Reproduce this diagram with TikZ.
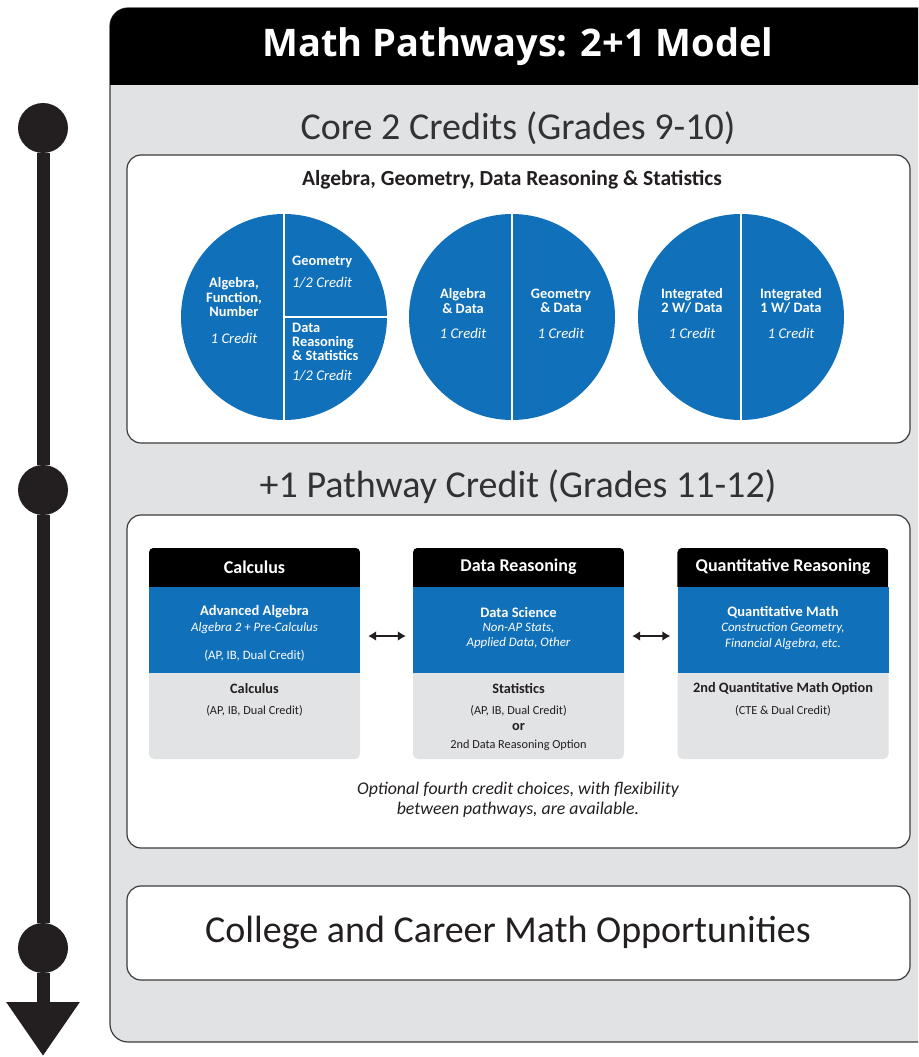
\documentclass[tikz,border=0pt]{standalone}
\usepackage{fontspec}
\setmainfont{Carlito}
\newfontfamily\titlefont{Open Sans}
\usetikzlibrary{arrows.meta}
\definecolor{mblue}{RGB}{17,112,186}
\definecolor{panelgrey}{RGB}{225,226,228}
\definecolor{cardgrey}{RGB}{226,227,229}
\definecolor{edge}{RGB}{60,60,60}
\definecolor{txt}{RGB}{35,31,32}
\definecolor{headgrey}{RGB}{50,50,52}
\begin{document}
\begin{tikzpicture}[x=1pt,y=-1pt,
  dot/.style={circle,fill=txt,minimum size=50pt,inner sep=0pt},
  tl/.style={line width=13pt,draw=txt},
  wbox/.style={draw=edge,line width=1.2pt,fill=white,rounded corners=14pt,inner sep=0pt},
  head/.style={text=headgrey,font=\fontsize{38}{40}\selectfont,inner sep=0pt},
  titletext/.style={text=white,font=\titlefont\bfseries\fontsize{38}{40}\selectfont,inner sep=0pt},
  subhead/.style={text=txt,font=\bfseries\fontsize{21.5}{24}\selectfont,inner sep=0pt},
  pie/.style={circle,fill=mblue,minimum size=206pt,inner sep=0pt},
  div/.style={draw=white,line width=1.8pt},
  ptxt/.style={text=white,font=\bfseries\fontsize{14.4}{14.2}\selectfont,inner sep=0pt,align=center},
  pit/.style={text=white,font=\itshape\fontsize{14.8}{16}\selectfont,inner sep=0pt},
  card/.style={fill=cardgrey,rounded corners=5pt,minimum width=211pt,minimum height=211pt,inner sep=0pt},
  bluebox/.style={fill=mblue,minimum width=211pt,minimum height=86pt,inner sep=0pt},
  hdr/.style={text=white,font=\bfseries\fontsize{18}{20}\selectfont,inner sep=0pt},
  btitle/.style={text=white,font=\bfseries\fontsize{14.5}{16}\selectfont,inner sep=0pt},
  bit/.style={text=white,font=\itshape\fontsize{12.9}{15.5}\selectfont,inner sep=0pt,align=center},
  bsm/.style={text=white,font=\fontsize{12.8}{14}\selectfont,inner sep=0pt},
  gtitle/.style={text=txt,font=\bfseries\fontsize{14.3}{15}\selectfont,inner sep=0pt},
  gsm/.style={text=txt,font=\fontsize{12.3}{14}\selectfont,inner sep=0pt},
  dbl/.style={draw=txt,line width=2.6pt,{Latex[length=8pt,width=10pt]}-{Latex[length=8pt,width=10pt]}},
  note/.style={text=txt,font=\itshape\fontsize{17.8}{20}\selectfont,inner sep=0pt,align=center},
  big/.style={text=txt,font=\fontsize{38}{40}\selectfont,inner sep=0pt}
]
\useasboundingbox (0,0) rectangle (918,1057);

% outer panel
\begin{scope}
\clip (0,0) rectangle (918,1057);
\path[fill=panelgrey,draw=edge,line width=1.2pt,rounded corners=18pt] (110,8) rectangle (960,1042);
\begin{scope}
\clip[rounded corners=18pt] (110,8) rectangle (960,1042);
\fill[black] (110,8) rectangle (960,85);
\end{scope}
\end{scope}
\node[titletext] (title) at (518,47) {Math Pathways: 2+1 Model};

% timeline
\node[dot] (d1) at (43,128) {};
\node[dot] (d2) at (43,490) {};
\node[dot] (d3) at (43,948) {};
\coordinate (tip) at (43,1056);
\draw[tl] (d1) -- (d2);
\draw[tl] (d2) -- (d3);
\draw[tl,-{Triangle[width=70pt,length=54pt]}] (d3) -- (tip);

% headings and boxes
\node[head] (core) at (518,128) {Core 2 Credits (Grades 9-10)};
\node[wbox,minimum width=783pt,minimum height=288pt] (w1) at (518.5,299) {};
\node[subhead] (sub) at (512,180) {Algebra, Geometry, Data Reasoning \& Statistics};

\node[head] (plus) at (518,487) {+1 Pathway Credit (Grades 11-12)};
\node[wbox,minimum width=783pt,minimum height=333pt] (w2) at (518.5,681.5) {};

\node[wbox,minimum width=783pt,minimum height=94pt] (w3) at (518.5,933) {};
\node[big] (career) at (508,933) {College and Career Math Opportunities};

% pies
\node[pie] (p1) at (284,317) {};
\draw[div] (p1.north) -- (p1.south);
\draw[div] (p1.center) -- (p1.east);
\node[ptxt] (a1) at (234,297) {Algebra,\\Function,\\Number};
\node[pit] (a1c) at (234,338) {1 Credit};
\node[ptxt,anchor=west] (g1t) at (292,262) {Geometry};
\node[pit,anchor=west] (g1c) at (292,283) {1/2 Credit};
\node[ptxt,anchor=west,align=left] (s1t) at (292,342) {Data\\Reasoning\\\& Statistics};
\node[pit,anchor=west] (s1c) at (292,376) {1/2 Credit};

\node[pie] (p2) at (512,317) {};
\draw[div] (p2.north) -- (p2.south);
\node[ptxt] (a2) at (463,301) {Algebra\\\& Data};
\node[pit] (a2c) at (463,333) {1 Credit};
\node[ptxt] (g2) at (561,301) {Geometry\\\& Data};
\node[pit] (g2c) at (561,333) {1 Credit};

\node[pie] (p3) at (741,317) {};
\draw[div] (p3.north) -- (p3.south);
\node[ptxt] (i2) at (692,301) {Integrated\\2 W/ Data};
\node[pit] (i2c) at (692,333) {1 Credit};
\node[ptxt] (i1) at (791,301) {Integrated\\1 W/ Data};
\node[pit] (i1c) at (791,333) {1 Credit};

% cards
\foreach \n/\cx in {1/254.5,2/518.5,3/783}{
  \node[card] (c\n) at (\cx,653.5) {};
  \begin{scope}
  \clip[rounded corners=5pt] (c\n.north west) rectangle (c\n.south east);
  \fill[black] (c\n.north west) rectangle ([yshift=-39pt]c\n.north east);
  \end{scope}
  \node[bluebox] (b\n) at (\cx,630) {};
}
\node[hdr] (h1) at (254.5,567) {Calculus};
\node[btitle] (bt1) at (254.5,612) {Advanced Algebra};
\node[bit] (bi1) at (254.5,628) {Algebra 2 + Pre-Calculus};
\node[bsm] (bs1) at (254.5,656) {(AP, IB, Dual Credit)};
\node[gtitle] (gt1) at (254.5,689) {Calculus};
\node[gsm] (gs1) at (254.5,711) {(AP, IB, Dual Credit)};

\node[hdr] (h2) at (518.5,567) {Data Reasoning};
\node[btitle] (bt2) at (518.5,612) {Data Science};
\node[bit] (bi2) at (518.5,636) {Non-AP Stats,\\Applied Data, Other};
\node[gtitle] (gt2) at (518.5,689) {Statistics};
\node[gsm] (gs2) at (518.5,711) {(AP, IB, Dual Credit)};
\node[gtitle] (or2) at (518.5,727) {or};
\node[gsm] (gs2b) at (518.5,745) {2nd Data Reasoning Option};

\node[hdr] (h3) at (783,567) {Quantitative Reasoning};
\node[btitle] (bt3) at (783,612) {Quantitative Math};
\node[bit] (bi3) at (783,636) {Construction Geometry,\\Financial Algebra, etc.};
\node[gtitle] (gt3) at (783,689) {2nd Quantitative Math Option};
\node[gsm] (gs3) at (783,711) {(CTE \& Dual Credit)};

\draw[dbl] ([xshift=8pt,yshift=-6pt]b1.east) -- ([xshift=-7pt,yshift=-6pt]b2.west);
\draw[dbl] ([xshift=8pt,yshift=-6pt]b2.east) -- ([xshift=-7pt,yshift=-6pt]b3.west);

\node[note] (note) at (518,800) {Optional fourth credit choices, with flexibility\\between pathways, are available.};
\end{tikzpicture}
\end{document}
